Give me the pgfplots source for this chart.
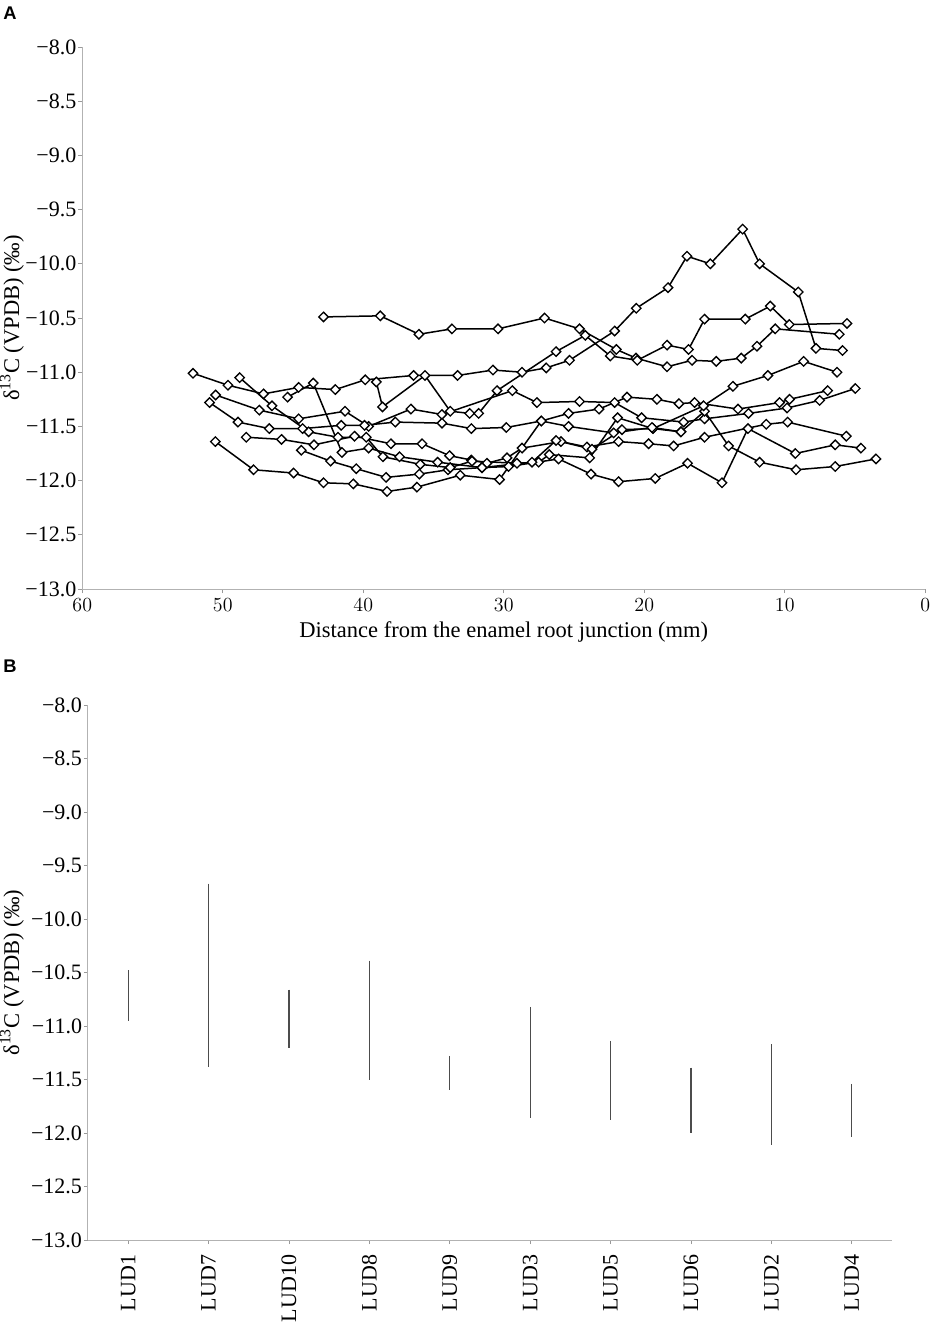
\documentclass[border=0pt]{standalone}
\usepackage{fontspec}
\setmainfont{Liberation Serif}
\newfontfamily\panelfont{Liberation Sans}
\usepackage{pgfplots}
\pgfplotsset{compat=1.18}
\pgfplotsset{
  myax/.style={
    scale only axis,
    axis x line*=bottom, axis y line*=left,
    axis line style={draw=black!30, line width=0.6pt, -},
    tick style={draw=black!40, line width=0.5pt},
    major tick length=2.4pt, tick align=outside,
    ymin=-13, ymax=-8,
    ytick={-13,-12.5,-12,-11.5,-11,-10.5,-10,-9.5,-9,-8.5,-8},
    yticklabels={−13.0,−12.5,−12.0,−11.5,−11.0,−10.5,−10.0,−9.5,−9.0,−8.5,−8.0},
    ylabel={δ\textsuperscript{13}C (VPDB) (‰)},
    tick label style={font=\fontsize{13.2}{15}\selectfont},
    label style={font=\fontsize{13.5}{15}\selectfont},
    yticklabel style={inner sep=1pt},
    clip=false,
  },
  ser/.style={black, line width=0.9pt, mark=square*, mark size=2.0pt,
    mark options={rotate=45, fill=white, draw=black, line width=0.8pt, solid}},
  rng/.style={black!70, line width=0.8pt, no marks},
}
\begin{document}
\begin{tikzpicture}
\useasboundingbox (0pt,0pt) rectangle (561pt,-798.6pt);
\node[anchor=north west, inner sep=0pt, font=\panelfont\bfseries\fontsize{11}{13}\selectfont] at (1.8pt,-4.2pt) {A};
\node[anchor=north west, inner sep=0pt, font=\panelfont\bfseries\fontsize{11}{13}\selectfont] at (1.8pt,-396pt) {B};

\begin{axis}[myax, at={(49.38pt,-353.4pt)}, anchor=south west,
  width=505.8pt, height=325.2pt,
  xmin=0, xmax=60, x dir=reverse,
  xtick={0,10,20,30,40,50,60},
  xlabel={Distance from the enamel root junction (mm)},
  xlabel style={yshift=1pt},
  ylabel style={at={(axis description cs:-0.0834,0.5)}, anchor=center, inner sep=0pt},
]
% top series
\addplot[ser] coordinates {(42.83,-10.49)(38.79,-10.48)(36.04,-10.65)(33.69,-10.60)(30.41,-10.60)(27.10,-10.50)(24.61,-10.60)(21.99,-10.79)(20.59,-10.87)(18.38,-10.95)(16.60,-10.89)(14.88,-10.90)(13.10,-10.87)(11.98,-10.76)(10.68,-10.60)(6.12,-10.65)};
% peak series
\addplot[ser] coordinates {(52.12,-11.01)(49.63,-11.12)(47.10,-11.20)(44.60,-11.14)(41.99,-11.16)(39.86,-11.07)(36.42,-11.03)(33.29,-11.03)(30.77,-10.98)(28.70,-11.00)(26.98,-10.96)(25.32,-10.89)(22.11,-10.62)(20.57,-10.41)(18.31,-10.22)(16.96,-9.93)(15.30,-10.00)(13.00,-9.68)(11.79,-10.00)(9.04,-10.26)(7.78,-10.78)(5.89,-10.80)};
% series B
\addplot[ser] coordinates {(39.07,-11.09)(38.63,-11.32)(35.61,-11.03)(33.81,-11.36)(32.43,-11.38)(31.79,-11.38)(30.48,-11.17)(26.28,-10.81)(24.20,-10.66)(22.42,-10.85)(20.50,-10.89)(18.38,-10.75)(16.85,-10.79)(15.71,-10.51)(12.81,-10.51)(11.03,-10.39)(9.68,-10.56)(5.57,-10.55)};
% lowest-right series
\addplot[ser] coordinates {(44.41,-11.72)(42.33,-11.82)(40.50,-11.89)(38.38,-11.97)(36.01,-11.94)(33.97,-11.90)(31.55,-11.88)(29.66,-11.87)(26.10,-11.80)(23.79,-11.94)(21.83,-12.01)(19.22,-11.98)(16.92,-11.84)(14.47,-12.02)(12.62,-11.52)(9.25,-11.75)(6.41,-11.67)(4.58,-11.70)};
% lowest-left series
\addplot[ser] coordinates {(50.53,-11.64)(47.81,-11.90)(44.96,-11.93)(42.83,-12.02)(40.71,-12.03)(38.31,-12.10)(36.18,-12.06)(33.10,-11.95)(30.30,-11.99)(27.33,-11.45)(25.39,-11.38)(23.22,-11.34)(21.23,-11.23)(19.10,-11.25)(17.53,-11.29)(16.42,-11.28)(13.33,-11.34)(10.37,-11.28)(9.66,-11.25)(6.95,-11.17)};
\addplot[ser] coordinates {(50.51,-11.21)(47.40,-11.35)(44.60,-11.43)(41.30,-11.36)(39.62,-11.50)(36.61,-11.34)(34.40,-11.39)(29.39,-11.17)(27.64,-11.28)(24.61,-11.27)(22.11,-11.28)(20.19,-11.42)(17.20,-11.46)(15.71,-11.43)(12.58,-11.38)(9.84,-11.33)(7.52,-11.26)(4.98,-11.15)};
\addplot[ser] coordinates {(48.33,-11.60)(45.82,-11.62)(43.51,-11.67)(40.62,-11.59)(38.03,-11.66)(35.82,-11.66)(33.86,-11.77)(32.31,-11.81)(31.20,-11.84)(29.77,-11.79)(28.70,-11.70)(25.93,-11.64)(24.08,-11.69)(21.83,-11.64)(19.69,-11.66)(17.91,-11.68)(15.71,-11.60)(11.32,-11.48)(9.80,-11.46)(5.62,-11.59)};
\addplot[ser] coordinates {(48.80,-11.05)(46.50,-11.31)(43.89,-11.55)(41.80,-11.60)(39.79,-11.60)(38.60,-11.78)(35.94,-11.85)(33.81,-11.88)(32.26,-11.82)(29.06,-11.84)(27.52,-11.83)(26.76,-11.76)(23.89,-11.79)(21.90,-11.42)(19.38,-11.52)(17.39,-11.55)(15.71,-11.36)(14.00,-11.68)(11.79,-11.83)(9.20,-11.90)(6.41,-11.87)(3.51,-11.80)};
\addplot[ser] coordinates {(45.39,-11.23)(43.56,-11.10)(41.52,-11.74)(39.62,-11.70)(37.42,-11.78)(34.71,-11.83)(31.55,-11.88)(27.99,-11.83)(26.28,-11.63)(23.72,-11.71)(21.59,-11.53)(19.38,-11.52)(15.78,-11.31)(13.69,-11.13)(11.20,-11.03)(8.66,-10.90)(6.28,-11.00)};
\addplot[ser] coordinates {(50.94,-11.28)(48.92,-11.46)(46.69,-11.52)(44.32,-11.52)(41.57,-11.49)(39.91,-11.49)(37.72,-11.46)(34.40,-11.47)(32.31,-11.52)(29.82,-11.51)(27.33,-11.45)(25.39,-11.50)(22.18,-11.56)(19.45,-11.51)(17.39,-11.55)};
\end{axis}

\begin{axis}[myax, at={(52.8pt,-744pt)}, anchor=south west,
  width=482.4pt, height=321pt,
  xmin=-0.5, xmax=9.5,
  xtick={0,1,2,3,4,5,6,7,8,9},
  xticklabels={LUD1,LUD7,LUD10,LUD8,LUD9,LUD3,LUD5,LUD6,LUD2,LUD4},
  xticklabel style={rotate=90, anchor=east, xshift=-3pt},
  ylabel style={at={(axis description cs:-0.0945,0.5)}, anchor=center, inner sep=0pt},
]
\addplot[rng] coordinates {(0,-10.48)(0,-10.95)};
\addplot[rng] coordinates {(1,-9.67)(1,-11.38)};
\addplot[rng] coordinates {(2,-10.66)(2,-11.21)};
\addplot[rng] coordinates {(3,-10.39)(3,-11.50)};
\addplot[rng] coordinates {(4,-11.28)(4,-11.60)};
\addplot[rng] coordinates {(5,-10.82)(5,-11.86)};
\addplot[rng] coordinates {(6,-11.14)(6,-11.88)};
\addplot[rng] coordinates {(7,-11.39)(7,-12.00)};
\addplot[rng] coordinates {(8,-11.17)(8,-12.11)};
\addplot[rng] coordinates {(9,-11.54)(9,-12.04)};
\end{axis}
\end{tikzpicture}
\end{document}
